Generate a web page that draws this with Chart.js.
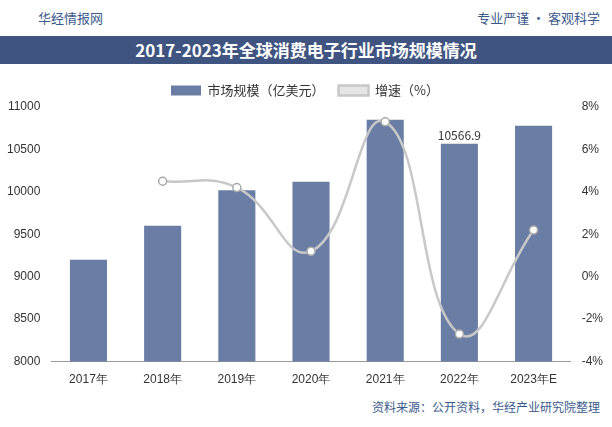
<!DOCTYPE html>
<html><head><meta charset="utf-8">
<script src="https://cdn.jsdelivr.net/npm/chart.js@4"></script>
<style>
body{margin:0;width:612px;height:427px;background:#fff;font-family:"Noto Sans CJK SC",sans-serif;position:relative;overflow:hidden}
#top{position:absolute;left:0;top:0;width:612px;height:34px;font-size:13px;color:#3c5a8c}
#top .l{position:absolute;left:38px;top:8px}
#top .r{position:absolute;right:12px;top:8px}
#title{position:absolute;left:0;top:36px;width:612px;height:28px;background:#3f5480;color:#fff;font-weight:bold;font-size:17px;text-align:center;line-height:28px;font-family:"Noto Sans CJK SC",serif}
#wrap{position:absolute;left:0;top:70px;width:612px;height:320px}
#foot{position:absolute;right:12px;top:398px;font-size:12px;color:#3c5a8c}
</style></head><body>
<div id="top"><span class="l">华经情报网</span><span class="r">专业严谨 • 客观科学</span></div>
<div id="title">2017-2023年全球消费电子行业市场规模情况</div>
<div id="wrap"><canvas id="c" width="612" height="320"></canvas></div>
<div id="foot">资料来源：公开资料，华经产业研究院整理</div>
<script>
var years = ['2017年','2018年','2019年','2020年','2021年','2022年','2023年E'];
var market = [9200, 9600, 10020, 10120, 10850, 10566.9, 10780];
var growth = [null, 4.5, 4.2, 1.2, 7.3, -2.7, 2.2];

var labelPlugin = {
  id: 'lbl',
  afterDatasetsDraw: function(chart) {
    var ctx = chart.ctx;
    var bar = chart.getDatasetMeta(0).data[5];
    ctx.save();
    ctx.font = '12px "Noto Sans CJK SC"';
    ctx.fillStyle = '#333';
    ctx.textAlign = 'center';
    ctx.fillText(String(market[5]), bar.x, bar.y - 8);
    ctx.restore();
  }
};

new Chart(document.getElementById('c'), {
  type: 'bar',
  data: {
    labels: years,
    datasets: [{
      label: '市场规模（亿美元）',
      data: market,
      backgroundColor: '#6a7ea5',
      barPercentage: 0.5,
      categoryPercentage: 1,
      yAxisID: 'y',
      order: 2
    }, {
      type: 'line',
      label: '增速（%）',
      data: growth,
      borderColor: '#c8c8c8',
      borderWidth: 2.5,
      pointBackgroundColor: '#fff',
      pointBorderColor: '#aaa',
      pointBorderWidth: 1.5,
      pointRadius: 4,
      tension: 0.45,
      yAxisID: 'y1',
      order: 1
    }]
  },
  options: {
    responsive: false,
    animation: false,
    layout: {padding: {left: 4, right: 6, bottom: 0}},
    plugins: {
      legend: {labels: {font: {size: 13, family: 'Noto Sans CJK SC'}, color: '#333', boxWidth: 30, boxHeight: 10, padding: 14,
        sort: function(a, b){ return a.datasetIndex - b.datasetIndex; }}},
      tooltip: {enabled: false}
    },
    scales: {
      x: {grid: {display: false}, ticks: {color: '#333', font: {size: 12}}, border: {color: '#999'}},
      y: {min: 8000, max: 11000, ticks: {stepSize: 500, color: '#333', font: {size: 12}, callback: function(v){return String(v);}}, grid: {display: false}, border: {display: false}},
      y1: {position: 'right', min: -4, max: 8, ticks: {stepSize: 2, color: '#333', font: {size: 12}, callback: function(v){return v + '%';}}, grid: {display: false}, border: {display: false}}
    }
  },
  plugins: [labelPlugin]
});
</script>
</body></html>
